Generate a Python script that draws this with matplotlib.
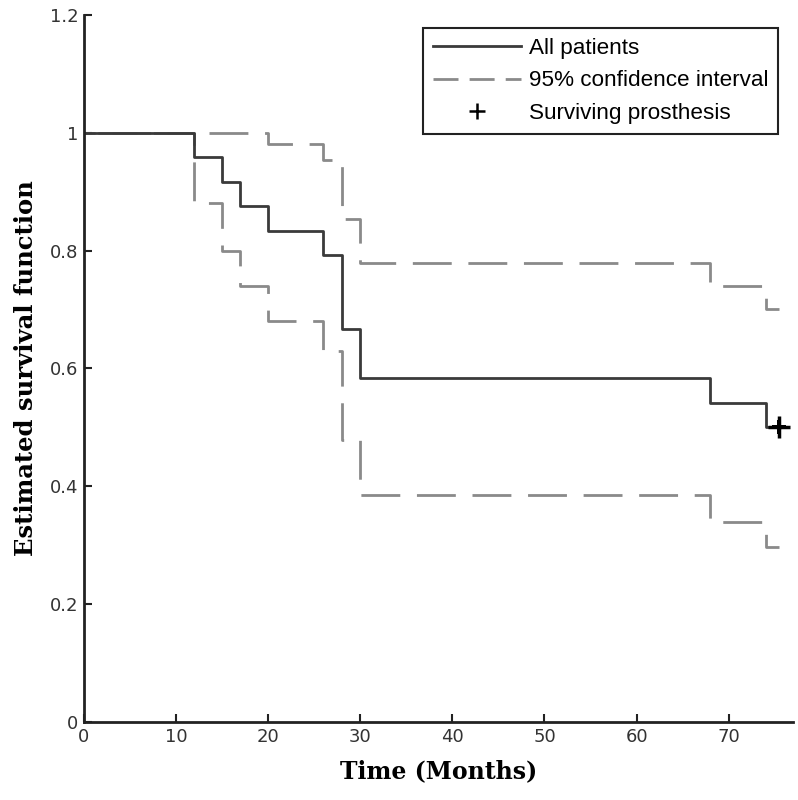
import matplotlib.pyplot as plt
from matplotlib.lines import Line2D

# Kaplan-Meier estimate, all patients
t_all = [0, 12, 15, 17, 20, 26, 28, 30, 68, 74, 75.5]
s_all = [1.0, 0.958, 0.917, 0.875, 0.833, 0.792, 0.667, 0.583, 0.542, 0.5, 0.5]

# 95% confidence interval, upper and lower
t_up = [0, 20, 26, 28, 30, 68, 74, 75.5]
s_up = [1.0, 0.98, 0.953, 0.854, 0.778, 0.74, 0.70, 0.70]
t_lo = [0, 12, 15, 17, 20, 26, 28, 30, 68, 74, 75.5]
s_lo = [1.0, 0.88, 0.80, 0.74, 0.68, 0.63, 0.478, 0.385, 0.34, 0.297, 0.297]

# censored (surviving prosthesis)
t_cens = [75.5]
s_cens = [0.5]

xticks = [0, 10, 20, 30, 40, 50, 60, 70]
yticks = [0, 0.2, 0.4, 0.6, 0.8, 1.0, 1.2]
ytick_labels = ['0', '0.2', '0.4', '0.6', '0.8', '1', '1.2']

fig = plt.figure(figsize=(7.98, 8), dpi=100)
ax = fig.add_axes([0.105, 0.0975, 0.889, 0.884])

ax.step(t_up, s_up, where='post', color='#8a8a8a', lw=2, linestyle=(15, (14, 6)))
ax.step(t_lo, s_lo, where='post', color='#8a8a8a', lw=2, linestyle=(10, (14, 6)))
ax.step(t_all, s_all, where='post', color='#3a3a3a', lw=2)
ax.plot(t_cens, s_cens, marker='P', color='black', ms=10, mew=0, linestyle='none')
ax.plot(t_cens, s_cens, marker='+', color='black', ms=16, mew=2.5, linestyle='none')

ax.set_xlim(0, 77)
ax.set_ylim(0, 1.2)
ax.set_xticks(xticks)
ax.set_yticks(yticks)
ax.set_yticklabels(ytick_labels)
for side in ['top', 'right']:
    ax.spines[side].set_visible(False)
for side in ['left', 'bottom']:
    ax.spines[side].set_linewidth(2)
    ax.spines[side].set_color('#222222')
ax.tick_params(direction='in', length=6, width=1.5, labelsize=13,
               labelcolor='#333333', color='#222222', pad=4)

ax.set_xlabel('Time (Months)', fontfamily='DejaVu Serif', fontweight='bold',
              fontsize=17, labelpad=10)
ax.set_ylabel('Estimated survival function', fontfamily='DejaVu Serif',
              fontweight='bold', fontsize=17.5, labelpad=8)

handles = [
    Line2D([], [], color='#3a3a3a', lw=2),
    Line2D([], [], color='#8a8a8a', lw=2, linestyle=(0, (9, 4))),
    Line2D([], [], color='black', marker='+', ms=11, mew=1.8, linestyle='none'),
]
labels = ['All patients', '95% confidence interval', 'Surviving prosthesis']
leg = ax.legend(handles, labels, loc='upper left', bbox_to_anchor=(423 / 798, 1 - 28 / 800),
                bbox_transform=fig.transFigure, fancybox=False, framealpha=1,
                edgecolor='#222222', handlelength=3.9, borderaxespad=0,
                borderpad=0.45, labelspacing=0.5, handletextpad=0.35,
                prop={'family': 'Liberation Sans', 'size': 16.2})
leg.get_frame().set_linewidth(1.5)

fig.savefig('out.png', dpi=100)
